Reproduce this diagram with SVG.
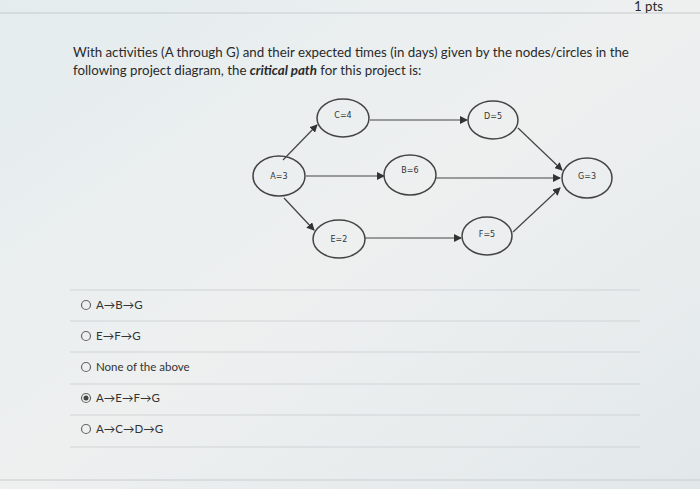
<svg xmlns="http://www.w3.org/2000/svg" width="700" height="489" viewBox="0 0 700 489">
<defs>
<marker id="ah" markerWidth="8" markerHeight="8" refX="7" refY="4" orient="auto" markerUnits="userSpaceOnUse"><path d="M0,0L8,4L0,8z" fill="#333"/></marker>
<linearGradient id="bg" x1="0" y1="0" x2="1" y2="1"><stop offset="0" stop-color="#e4ecee"/><stop offset="0.5" stop-color="#eef0f0"/><stop offset="1" stop-color="#e2e8ea"/></linearGradient>
</defs>
<style>
.n ellipse{fill:none;stroke:#444;stroke-width:1.5}
.n text{font-family:"DejaVu Sans",sans-serif;font-size:8px;fill:#333;text-anchor:middle}
.e line{stroke:#444;stroke-width:1.2;marker-end:url(#ah)}
.t{font-family:Lato,"Liberation Sans",sans-serif;font-size:13.3px;fill:#2a2a2a}
.o{font-family:Lato,"Liberation Sans",sans-serif;font-size:11.5px;fill:#333}
.sep{stroke:#d0d4d6;stroke-width:1}
.r{fill:none;stroke:#666;stroke-width:1.2}
</style>
<rect width="700" height="489" fill="url(#bg)"/>
<line x1="0" y1="13" x2="700" y2="13" stroke="#c8ccce"/>
<text x="634" y="11" class="t" font-size="11.5">1 pts</text>
<text x="73" y="57" class="t">With activities (A through G) and their expected times (in days) given by the nodes/circles in the</text>
<text x="73" y="75" class="t">following project diagram, the <tspan font-weight="bold" font-style="italic">critical path</tspan> for this project is:</text>
<g class="e">
<line x1="283" y1="160" x2="317" y2="125"/>
<line x1="370" y1="120" x2="467" y2="120"/>
<line x1="306" y1="176" x2="384" y2="176"/>
<line x1="436" y1="178" x2="560" y2="178"/>
<line x1="518" y1="128" x2="562" y2="170"/>
<line x1="284" y1="198" x2="314" y2="230"/>
<line x1="365" y1="238" x2="461" y2="238"/>
<line x1="513" y1="232" x2="560" y2="188"/>
</g>
<g id="A" class="n"><ellipse cx="279" cy="176" rx="26" ry="20"/><text x="279" y="179">A=3</text></g>
<g id="C" class="n"><ellipse cx="343" cy="118" rx="26" ry="19"/><text x="343" y="118">C=4</text></g>
<g id="D" class="n"><ellipse cx="493" cy="120" rx="25" ry="19"/><text x="493" y="119">D=5</text></g>
<g id="B" class="n"><ellipse cx="410" cy="175" rx="26" ry="20"/><text x="410" y="173">B=6</text></g>
<g id="G" class="n"><ellipse cx="587" cy="178" rx="25" ry="20"/><text x="587" y="179">G=3</text></g>
<g id="E" class="n"><ellipse cx="339" cy="239" rx="26" ry="19"/><text x="339" y="242">E=2</text></g>
<g id="F" class="n"><ellipse cx="487" cy="236" rx="25" ry="19"/><text x="487" y="237">F=5</text></g>
<line class="sep" x1="70" y1="290" x2="640" y2="290"/>
<line class="sep" x1="70" y1="321" x2="640" y2="321"/>
<line class="sep" x1="70" y1="352" x2="640" y2="352"/>
<line class="sep" x1="70" y1="384" x2="640" y2="384"/>
<line class="sep" x1="70" y1="415" x2="640" y2="415"/>
<line class="sep" x1="70" y1="447" x2="640" y2="447"/>
<circle class="r" cx="86" cy="305" r="4.5"/><text class="o" x="96" y="309">A→B→G</text>
<circle class="r" cx="86" cy="336" r="4.5"/><text class="o" x="96" y="340">E→F→G</text>
<circle class="r" cx="86" cy="367" r="4.5"/><text class="o" x="96" y="371">None of the above</text>
<circle class="r" cx="86" cy="398" r="4.5"/><circle cx="86" cy="398" r="2.5" fill="#444"/><text class="o" x="96" y="402">A→E→F→G</text>
<circle class="r" cx="86" cy="429" r="4.5"/><text class="o" x="96" y="433">A→C→D→G</text>
<line x1="0" y1="480" x2="700" y2="480" stroke="#c8ccce"/>
</svg>
